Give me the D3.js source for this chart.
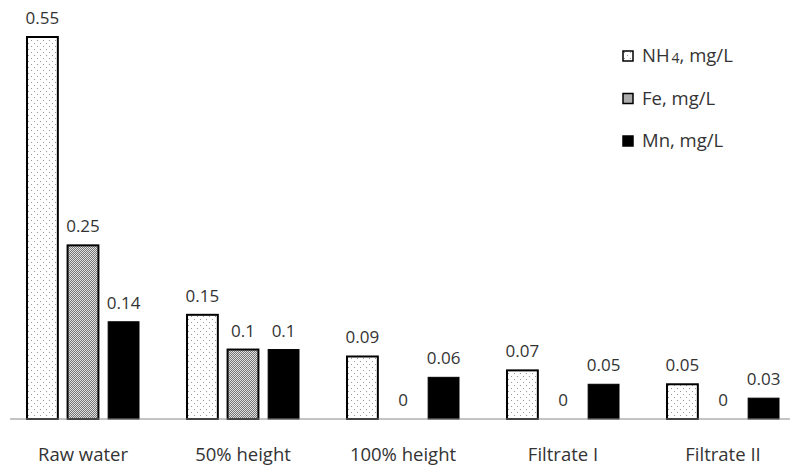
<!DOCTYPE html>
<html>
<head>
<meta charset="utf-8">
<script src="https://cdn.jsdelivr.net/npm/d3@7"></script>
<style>
body { margin: 0; background: #fff; }
text { font-family: "Open Sans", sans-serif; fill: #333; }
</style>
</head>
<body>
<script>
var width = 790;
var height = 468;

var categories = ["Raw water", "50% height", "100% height", "Filtrate I", "Filtrate II"];
var seriesNames = ["NH4", "Fe", "Mn"];
var nh4 = [0.55, 0.15, 0.09, 0.07, 0.05];
var fe = [0.25, 0.1, 0, 0, 0];
var mn = [0.14, 0.1, 0.06, 0.05, 0.03];
var series = [nh4, fe, mn];

var svg = d3.select("body")
    .append("svg")
    .attr("width", width)
    .attr("height", height);

var defs = svg.append("defs");

// sparse dots for NH4
var p1 = defs.append("pattern")
    .attr("id", "dotsLight")
    .attr("patternUnits", "userSpaceOnUse")
    .attr("width", 6).attr("height", 6);
p1.append("rect").attr("width", 6).attr("height", 6).attr("fill", "#fff");
p1.append("rect").attr("x", 1).attr("y", 1).attr("width", 1).attr("height", 1).attr("fill", "#999");
p1.append("rect").attr("x", 4).attr("y", 4).attr("width", 1).attr("height", 1).attr("fill", "#999");

// dense dots for Fe
var p2 = defs.append("pattern")
    .attr("id", "dotsDense")
    .attr("patternUnits", "userSpaceOnUse")
    .attr("width", 2).attr("height", 2);
p2.append("rect").attr("width", 2).attr("height", 2).attr("fill", "#e0e0e0");
p2.append("rect").attr("width", 1).attr("height", 1).attr("fill", "#777");
p2.append("rect").attr("x", 1).attr("y", 1).attr("width", 1).attr("height", 1).attr("fill", "#777");

var fills = ["url(#dotsLight)", "url(#dotsDense)", "#000"];

var x0 = d3.scaleBand()
    .domain(categories)
    .range([3, 803])
    .paddingInner(0)
    .paddingOuter(0);

var x1 = d3.scaleBand()
    .domain(seriesNames)
    .range([24, 136])
    .paddingInner(0.24)
    .paddingOuter(0);

var y = d3.scaleLinear()
    .domain([0, 0.55])
    .range([419, 37]);

var groups = svg.selectAll("g.grp")
    .data(categories)
    .enter().append("g")
    .attr("class", "grp")
    .attr("transform", function(d) { return "translate(" + x0(d) + ",0)"; });

groups.each(function(c, i) {
    var g = d3.select(this);
    series.forEach(function(s, j) {
        var v = s[i];
        if (v > 0) {
            g.append("rect")
                .attr("x", x1(seriesNames[j]))
                .attr("y", y(v))
                .attr("width", x1.bandwidth())
                .attr("height", y(0) - y(v))
                .attr("fill", fills[j])
                .attr("stroke", "#000")
                .attr("stroke-width", j < 2 ? 2 : 1);
        }
        g.append("text")
            .attr("x", x1(seriesNames[j]) + x1.bandwidth() / 2)
            .attr("y", y(v) - 13)
            .attr("text-anchor", "middle")
            .style("font-size", "17px")
            .text(v);
    });
});

// baseline
svg.append("line")
    .attr("x1", 10).attr("x2", 790)
    .attr("y1", y(0)).attr("y2", y(0))
    .attr("stroke", "#888")
    .attr("stroke-width", 1);

// category labels
svg.selectAll("text.cat")
    .data(categories)
    .enter().append("text")
    .attr("class", "cat")
    .attr("x", function(d) { return x0(d) + x0.bandwidth() / 2; })
    .attr("y", 461)
    .attr("text-anchor", "middle")
    .style("font-size", "18.5px")
    .text(function(d) { return d; });

// legend
var legendRows = [
    { fill: fills[0], label: "NH", sub: "4", rest: ", mg/L" },
    { fill: fills[1], label: "Fe, mg/L" },
    { fill: fills[2], label: "Mn, mg/L" }
];

var legend = svg.selectAll("g.leg")
    .data(legendRows)
    .enter().append("g")
    .attr("class", "leg")
    .attr("transform", function(d, i) { return "translate(623," + (51 + i * 42.5) + ")"; });

legend.append("rect")
    .attr("width", 10).attr("height", 10)
    .attr("fill", function(d) { return d.fill; })
    .attr("stroke", "#000")
    .attr("stroke-width", 1.5);

legend.each(function(d) {
    var t = d3.select(this).append("text")
        .attr("x", 19)
        .attr("y", 11)
        .style("font-size", "18.5px");
    t.append("tspan").text(d.label);
    if (d.sub) {
        t.append("tspan").attr("dy", 1).attr("dx", 2).style("font-size", "14px").text(d.sub);
        t.append("tspan").attr("dy", -1).text(d.rest);
    }
});
</script>
</body>
</html>
